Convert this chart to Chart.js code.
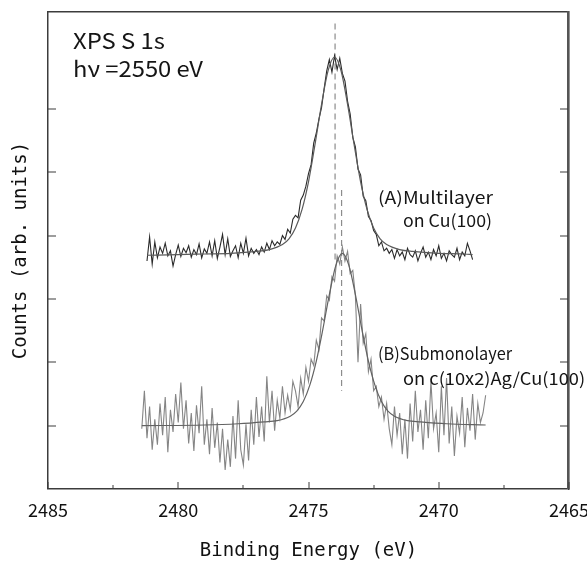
<!DOCTYPE html>
<html lang="en">

<head>
    <meta charset="UTF-8">
    <title>XPS S 1s</title>
    <script src="https://cdn.jsdelivr.net/npm/chart.js"></script>
    <style>
        body { margin: 0; background: #fff; }
        canvas { display: block; }
    </style>
</head>

<body>
    <canvas id="myChart" width="587" height="561"></canvas>
</body>
<script>
    // (A) Multilayer on Cu(100) - measured spectrum
    var energyA = [
        2481.2, 2481.1, 2481.0, 2480.9, 2480.8, 2480.7, 2480.6, 2480.5, 2480.4, 2480.3,
        2480.2, 2480.1, 2480.0, 2479.9, 2479.8, 2479.7, 2479.6, 2479.5, 2479.4, 2479.3,
        2479.2, 2479.1, 2479.0, 2478.9, 2478.8, 2478.7, 2478.6, 2478.5, 2478.4, 2478.3,
        2478.2, 2478.1, 2478.0, 2477.9, 2477.8, 2477.7, 2477.6, 2477.5, 2477.4, 2477.3,
        2477.2, 2477.1, 2477.0, 2476.9, 2476.8, 2476.7, 2476.6, 2476.5, 2476.4, 2476.3,
        2476.2, 2476.1, 2476.0, 2475.9, 2475.8, 2475.7, 2475.6, 2475.5, 2475.4, 2475.3,
        2475.2, 2475.1, 2475.0, 2474.9, 2474.8, 2474.7, 2474.6, 2474.5, 2474.4, 2474.3,
        2474.2, 2474.1, 2474.0, 2473.9, 2473.8, 2473.7, 2473.6, 2473.5, 2473.4, 2473.3,
        2473.2, 2473.1, 2473.0, 2472.9, 2472.8, 2472.7, 2472.6, 2472.5, 2472.4, 2472.3,
        2472.2, 2472.1, 2472.0, 2471.9, 2471.8,
        2471.7, 2471.6, 2471.5, 2471.4, 2471.3, 2471.2, 2471.1, 2471.0, 2470.9, 2470.8,
        2470.7, 2470.6, 2470.5, 2470.4, 2470.3, 2470.2, 2470.1, 2470.0, 2469.9, 2469.8,
        2469.7, 2469.6, 2469.5, 2469.4, 2469.3, 2469.2, 2469.1, 2469.0, 2468.9, 2468.8, 2468.7
    ]
    var countsA = [
        3.60, 3.98, 3.55, 3.90, 3.65, 3.82, 3.72, 3.88, 3.68, 3.76,
        3.52, 3.70, 3.85, 3.67, 3.80, 3.73, 3.84, 3.66, 3.78, 3.70,
        3.87, 3.65, 3.79, 3.72, 3.90, 3.68, 3.92, 3.64, 3.82, 4.02,
        3.70, 3.95, 3.67, 3.76, 3.84, 3.65, 3.88, 3.72, 3.96, 3.68,
        3.80, 3.72, 3.78, 3.70, 3.82, 3.74, 3.88, 3.78, 3.92, 3.84,
        3.90, 3.86, 4.00, 3.94, 4.10, 4.04, 4.26, 4.32, 4.28, 4.56,
        4.64, 4.78, 4.98, 5.12, 5.46, 5.62, 5.84, 6.02, 6.32, 6.60,
        6.78, 6.58, 6.84, 6.62, 6.80, 6.56, 6.44, 6.12, 5.92, 5.55,
        5.40, 5.05, 4.96, 4.62, 4.55, 4.30, 4.24, 4.08, 4.02, 3.84,
        3.90, 3.76, 3.80, 3.72, 3.78,
        3.64, 3.78, 3.68, 3.74, 3.62, 3.80, 3.70, 3.66, 3.76, 3.60,
        3.72, 3.82, 3.66, 3.74, 3.62, 3.78, 3.68, 3.84, 3.64, 3.72,
        3.60, 3.76, 3.70, 3.66, 3.80, 3.62, 3.74, 3.68, 3.88, 3.76, 3.62
    ]
    var fitEnergyA = [2481.2, 2480, 2479, 2478, 2477, 2476.5, 2476, 2475.75, 2475.5, 2475.25, 2475, 2474.75, 2474.5, 2474.25,
        2474, 2473.75, 2473.5, 2473.25, 2473, 2472.75, 2472.5, 2472.25, 2472, 2471.5, 2471, 2470, 2469, 2468.7]
    var fitA = [3.69, 3.70, 3.71, 3.72, 3.75, 3.78, 3.86, 3.95, 4.12, 4.41, 4.85, 5.44, 6.07, 6.60,
        6.82, 6.60, 6.07, 5.44, 4.85, 4.41, 4.12, 3.95, 3.86, 3.78, 3.75, 3.72, 3.71, 3.70]

    // (B) Submonolayer on c(10x2)Ag/Cu(100)
    var energyB = [
        2481.4, 2481.3, 2481.2, 2481.1, 2481.0, 2480.9, 2480.8, 2480.7, 2480.6, 2480.5,
        2480.4, 2480.3, 2480.2, 2480.1, 2480.0, 2479.9, 2479.8, 2479.7, 2479.6, 2479.5,
        2479.4, 2479.3, 2479.2, 2479.1, 2479.0, 2478.9, 2478.8, 2478.7, 2478.6, 2478.5,
        2478.4, 2478.3, 2478.2, 2478.1, 2478.0, 2477.9, 2477.8, 2477.7, 2477.6, 2477.5,
        2477.4, 2477.3, 2477.2, 2477.1, 2477.0, 2476.9, 2476.8, 2476.7, 2476.6, 2476.5,
        2476.4, 2476.3, 2476.2, 2476.1, 2476.0, 2475.9, 2475.8, 2475.7, 2475.6,
        2475.5, 2475.4, 2475.3, 2475.2, 2475.1, 2475.0, 2474.9, 2474.8, 2474.7, 2474.6,
        2474.5, 2474.4, 2474.3, 2474.2, 2474.1, 2474.0, 2473.9, 2473.8, 2473.7, 2473.6,
        2473.5, 2473.4, 2473.3, 2473.2, 2473.1, 2473.0, 2472.9, 2472.8, 2472.7, 2472.6,
        2472.5, 2472.4, 2472.3, 2472.2, 2472.1, 2472.0, 2471.9,
        2471.8, 2471.7, 2471.6, 2471.5, 2471.4, 2471.3, 2471.2, 2471.1, 2471.0, 2470.9,
        2470.8, 2470.7, 2470.6, 2470.5, 2470.4, 2470.3, 2470.2, 2470.1, 2470.0, 2469.9,
        2469.8, 2469.7, 2469.6, 2469.5, 2469.4, 2469.3, 2469.2, 2469.1, 2469.0, 2468.9,
        2468.8, 2468.7, 2468.6, 2468.5, 2468.4, 2468.3, 2468.2
    ]
    var countsB = [
        0.95, 1.55, 0.80, 1.30, 0.62, 1.10, 0.70, 1.35, 0.85, 1.45,
        0.58, 1.25, 0.90, 1.50, 1.05, 1.68, 0.95, 1.40, 0.72, 1.20,
        0.60, 1.32, 0.88, 1.62, 0.70, 1.10, 0.55, 1.28, 0.65, 1.05,
        0.42, 0.95, 0.30, 0.78, 0.35, 1.15, 0.48, 1.40, 0.62, 0.38,
        1.02, 0.45, 1.25, 0.70, 1.45, 0.82, 1.30, 0.75, 1.78, 1.05,
        1.55, 0.92, 1.40, 1.12, 1.62, 1.20, 1.48, 1.25, 1.70,
        1.55, 1.30, 1.75, 1.50, 1.92, 1.70, 2.05, 1.95, 2.35, 2.20,
        2.70, 2.65, 3.05, 2.98, 3.35, 3.28, 3.68, 3.55, 3.82, 3.60,
        3.75, 3.40, 3.45, 3.05, 2.00, 2.92, 2.30, 2.45, 1.85, 2.05,
        1.55, 1.62, 1.30, 1.45, 1.10, 1.35, 0.95,
        0.70, 1.30, 0.85, 1.20, 0.55, 1.10, 0.48, 1.35, 0.75, 1.55,
        0.90, 1.25, 0.62, 1.40, 0.80, 1.70, 0.95, 1.20, 0.58, 1.62,
        0.85, 1.75, 0.72, 1.30, 0.52, 1.15, 0.88, 1.45, 0.66, 1.28,
        0.92, 1.50, 0.78, 1.35, 1.05, 1.20, 1.48
    ]
    var fitEnergyB = [2481.4, 2479, 2477.7, 2476.7, 2476.2, 2475.7, 2475.45, 2475.2, 2474.95, 2474.7, 2474.45, 2474.2, 2473.95,
        2473.7, 2473.45, 2473.2, 2472.95, 2472.7, 2472.45, 2472.2, 2471.95, 2471.7, 2471.2, 2470.7, 2469.7, 2468.2]
    var fitB = [1.00, 1.01, 1.03, 1.06, 1.08, 1.15, 1.23, 1.38, 1.64, 2.02, 2.52, 3.07, 3.53,
        3.72, 3.53, 3.07, 2.52, 2.02, 1.64, 1.38, 1.23, 1.15, 1.08, 1.06, 1.03, 1.01]

    // peak position markers
    var dashEnergyA = [2473.98, 2473.98]
    var dashA = [7.35, 3.62]
    var dashEnergyB = [2473.73, 2473.73]
    var dashB = [4.72, 1.55]

    var yTicks = [1, 2, 3, 4, 5, 6]

    function pares(xs, ys) {
        let out = []
        for (var i = 0; i < xs.length; i++) {
            out.push({ x: xs[i], y: ys[i] })
        }
        return out
    }

    var mono = "'DejaVu Sans Mono', monospace"
    var gothic = "'Noto Sans CJK JP', 'Noto Sans', sans-serif"

    // frame, inward ticks and the text notes
    const moldura = {
        id: 'moldura',
        afterDraw(chart) {
            const ctx = chart.ctx
            const a = chart.chartArea
            const sx = chart.scales.x
            const sy = chart.scales.y
            let l = Math.round(a.left), r = Math.round(a.right), t = Math.round(a.top), b = Math.round(a.bottom)
            ctx.save()
            ctx.setLineDash([])
            ctx.globalAlpha = 1
            ctx.fillStyle = '#3c3c3c'
            ctx.fillRect(l - 1, t - 1, r - l + 1, 1.5)
            ctx.fillRect(l - 1, b - 1, r - l + 1, 1.5)
            ctx.fillRect(l - 1, t - 1, 1.5, b - t + 1)
            ctx.fillStyle = '#555'
            ctx.fillRect(r - 2, t - 1, 2, b - t + 1)

            ctx.fillStyle = '#3c3c3c'
            sx.ticks.forEach(function (tk) {
                let px = Math.round(sx.getPixelForValue(tk.value))
                let len = tk.value % 5 === 0 ? 7 : 4
                ctx.fillRect(px - 0.5, b - len, 1, len)
            })
            sy.ticks.forEach(function (tk) {
                let py = Math.round(sy.getPixelForValue(tk.value))
                ctx.fillRect(l, py - 0.5, 8, 1)
                ctx.fillRect(r - 9, py - 0.5, 8, 1)
            })

            let notas = [
                { t: 'XPS S 1s', e: 2484.04, v: 6.94, w: 92, f: 22 },
                { t: 'h\u03bd =2550 eV', e: 2484.04, v: 6.50, w: 130, f: 22 },
                { t: '(A)Multilayer', e: 2472.33, v: 4.50, w: 115, f: 17 },
                { t: 'on Cu(100)', e: 2471.37, v: 4.14, w: 89, f: 17 },
                { t: '(B)Submonolayer', e: 2472.33, v: 2.04, w: 134, f: 17 },
                { t: 'on c(10x2)Ag/Cu(100)', e: 2471.37, v: 1.64, w: 182, f: 17 }
            ]
            ctx.fillStyle = '#151515'
            ctx.textBaseline = 'alphabetic'
            ctx.textAlign = 'left'
            notas.forEach(function (n) {
                ctx.font = n.f + 'px ' + gothic
                let px = sx.getPixelForValue(n.e)
                let py = sy.getPixelForValue(n.v)
                let k = n.w / ctx.measureText(n.t).width
                ctx.save()
                ctx.translate(px, py)
                ctx.scale(k, 1)
                ctx.fillText(n.t, 0, 0)
                ctx.restore()
            })
            ctx.restore()
        }
    }

    const config = {
        type: 'line',
        data: {
            datasets: [
                {
                    label: 'Fit A',
                    data: pares(fitEnergyA, fitA),
                    borderColor: '#5a5a5a',
                    borderWidth: 1.2,
                    pointRadius: 0,
                    cubicInterpolationMode: 'monotone'
                },
                {
                    label: 'Fit B',
                    data: pares(fitEnergyB, fitB),
                    borderColor: '#626262',
                    borderWidth: 1.2,
                    pointRadius: 0,
                    cubicInterpolationMode: 'monotone'
                },
                {
                    label: '(A) Multilayer on Cu(100)',
                    data: pares(energyA, countsA),
                    borderColor: '#2a2a2a',
                    borderWidth: 1.1,
                    pointRadius: 0,
                    tension: 0
                },
                {
                    label: '(B) Submonolayer on c(10x2)Ag/Cu(100)',
                    data: pares(energyB, countsB),
                    borderColor: '#858585',
                    borderWidth: 1.1,
                    pointRadius: 0,
                    tension: 0
                },
                {
                    label: 'peak A',
                    data: pares(dashEnergyA, dashA),
                    borderColor: '#8c8c8c',
                    borderWidth: 1.2,
                    borderDash: [6, 4],
                    pointRadius: 0
                },
                {
                    label: 'peak B',
                    data: pares(dashEnergyB, dashB),
                    borderColor: '#8c8c8c',
                    borderWidth: 1.2,
                    borderDash: [6, 4],
                    pointRadius: 0
                }
            ]
        },
        options: {
            responsive: false,
            animation: false,
            layout: { padding: { top: 12, right: 0, left: 0, bottom: 0 } },
            plugins: { legend: { display: false }, tooltip: { enabled: false } },
            scales: {
                x: {
                    type: 'linear',
                    min: 2465,
                    max: 2485,
                    reverse: true,
                    grid: { display: false, drawTicks: false },
                    border: { display: false },
                    ticks: {
                        stepSize: 2.5,
                        autoSkip: false,
                        maxRotation: 0,
                        padding: 10,
                        color: '#111',
                        font: { family: gothic, size: 18 },
                        callback: function (v) { return v % 5 === 0 ? String(v) : '' }
                    },
                    title: {
                        display: true,
                        text: 'Binding Energy (eV)',
                        color: '#111',
                        font: { family: mono, size: 19, lineHeight: 1 },
                        padding: { top: 0, bottom: 0 }
                    },
                    afterFit: function (s) {
                        s.height = 72
                        s.paddingLeft = 0
                        s.paddingRight = 0
                    }
                },
                y: {
                    min: 0,
                    max: 7.53,
                    grid: { display: false, drawTicks: false },
                    border: { display: false },
                    ticks: { display: false },
                    afterBuildTicks: function (s) {
                        s.ticks = yTicks.map(function (v) { return { value: v } })
                    },
                    title: {
                        display: true,
                        text: 'Counts (arb. units)',
                        color: '#111',
                        font: { family: mono, size: 19, lineHeight: 1 },
                        padding: { top: 12, bottom: 0 }
                    },
                    afterFit: function (s) {
                        s.width = 48
                        s.paddingTop = 0
                        s.paddingBottom = 0
                    }
                },
                // right-hand frame edge drawn by the library
                y2: {
                    position: 'right',
                    min: 0,
                    max: 7.53,
                    grid: { display: false, drawTicks: false },
                    border: { display: true, color: '#4a4a4a', width: 1.6 },
                    ticks: { display: false },
                    afterFit: function (s) {
                        s.width = 18
                        s.paddingTop = 0
                        s.paddingBottom = 0
                    }
                }
            }
        },
        plugins: [moldura]
    };

    let myChart = new Chart(document.getElementById('myChart'), config);
</script>

</html>
